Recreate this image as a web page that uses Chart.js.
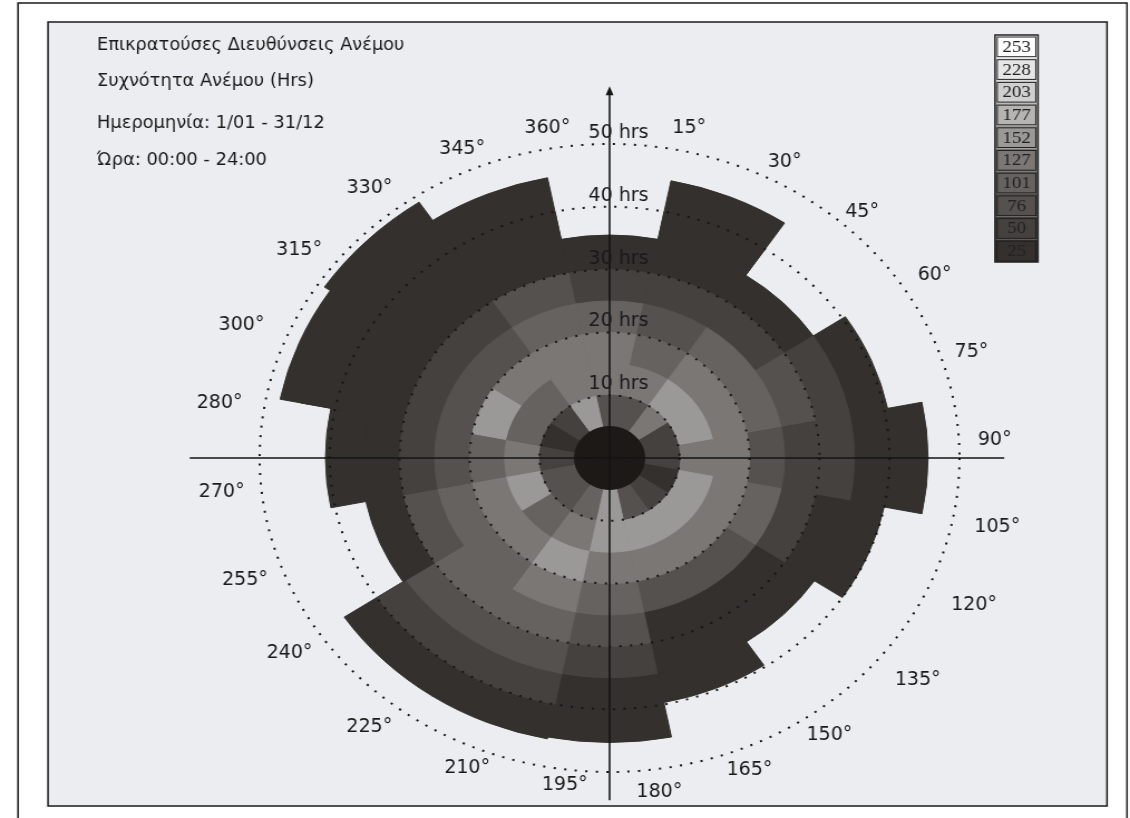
<!DOCTYPE html>
<html>
<head>
<meta charset="utf-8">
<script src="https://cdn.jsdelivr.net/npm/chart.js@4.4.1/dist/chart.umd.min.js"></script>
<style>
  html, body { margin: 0; padding: 0; background: #fff; overflow: hidden; }
  /* the original picture is stretched sideways, so the whole canvas is too */
  #wrap { position: absolute; left: 0; top: 0; width: 1014px; height: 818px; transform-origin: 0 0; transform: scaleX(1.1144); }
</style>
</head>
<body>
<div id="wrap"><canvas id="rose" width="1014" height="818"></canvas></div>
<script>
// 16 sectors of 22.5 deg, clockwise from north
const directions = ['N', 'NNE', 'NE', 'ENE', 'E', 'ESE', 'SE', 'SSE', 'S', 'SSW', 'SW', 'WSW', 'W', 'WNW', 'NW', 'NNW'];
// outer edge of each petal (hrs)
const totals = [35.5, 45, 35, 40.5, 45.5, 40, 35.2, 39.7, 45.3, 45.6, 45.6, 35.5, 40.6, 48, 49, 45.5];
// calm circle (hrs)
const calm = 5;
// grey class of every 5 hrs ring, from 5 hrs outwards (last ring ends at the total)
const rings = [
  [76, 127, 127, 101, 50, 25],
  [76, 127, 101, 76, 50, 25, 25, 25],
  [127, 152, 127, 101, 50, 25],
  [50, 152, 127, 101, 76, 50, 25],
  [50, 127, 127, 76, 50, 50, 25, 25],
  [25, 152, 127, 101, 50, 25, 25],
  [50, 152, 127, 76, 25, 25],
  [76, 152, 127, 76, 25, 25, 25],
  [152, 152, 127, 101, 76, 50, 25, 25],
  [101, 127, 152, 127, 101, 76, 50, 25],
  [76, 101, 127, 101, 101, 76, 50, 25],
  [76, 152, 127, 101, 76, 25],
  [50, 127, 101, 76, 50, 25, 25],
  [25, 101, 152, 76, 50, 25, 25, 25, 25],
  [50, 101, 127, 76, 50, 25, 25, 25, 25],
  [152, 127, 127, 101, 76, 25, 25, 25]
];
const legendLevels = [253, 228, 203, 177, 152, 127, 101, 76, 50, 25];
const tickValues = [10, 20, 30, 40, 50];
const angleLabels = ['360°', '15°', '30°', '45°', '60°', '75°', '90°', '105°', '120°', '135°', '150°', '165°',
  '180°', '195°', '210°', '225°', '240°', '255°', '270°', '280°', '300°', '315°', '330°', '345°'];
const titleLines = ['Επικρατούσες Διευθύνσεις Ανέμου', 'Συχνότητα Ανέμου (Hrs)', 'Ημερομηνία: 1/01 - 31/12', 'Ώρα: 00:00 - 24:00'];

// styles
const shade = {
  253: '#fdfdfd', 228: '#e6e6e6', 203: '#cfcfcf', 177: '#b5b4b3', 152: '#9b9997',
  127: '#7a7775', 101: '#65625f', 76: '#55514e', 50: '#45413e', 25: '#33302d'
};
const calmColor = '#1d1917';
const font = '"DejaVu Sans Condensed", "Liberation Sans", Arial, sans-serif';
const stretch = 1.1144;
const px = x => x / stretch; // page x -> canvas x
// where each angle label sits: [hrs from centre, bearing]
const labelPos = [[53.3, 350.4], [53.8, 12.2], [53.3, 28], [53.3, 42.6], [54.8, 57.9], [54.4, 71.9],
  [55.1, 87], [56.5, 101.3], [57.1, 114.2], [56.5, 128.8], [54.1, 144.5], [53.6, 158.1],
  [53.7, 172.4], [52.5, 187], [53.4, 202.4], [54.9, 218.7], [55.3, 235.8], [55.6, 249.6],
  [55.7, 264.4], [56.4, 278.9], [56.7, 291.9], [55.4, 306.8], [55, 321.4], [53.5, 336.8]];

const ringStep = 5;
const maxRings = Math.max(...rings.map(r => r.length));

const datasets = [{
  label: 'calm',
  data: directions.map(() => calm),
  backgroundColor: calmColor,
  borderColor: calmColor,
  borderWidth: 1
}];
for (let k = 0; k < maxRings; k++) {
  const cols = rings.map(r => k < r.length ? shade[r[k]] : 'rgba(0,0,0,0)');
  datasets.push({
    label: 'ring ' + (k + 1),
    data: rings.map((r, i) => {
      if (k >= r.length) return 0;
      return k === r.length - 1 ? totals[i] : calm + ringStep * (k + 1);
    }),
    backgroundColor: cols,
    borderColor: cols,
    borderWidth: 1
  });
}

const decor = {
  id: 'decor',
  beforeDraw(chart) {
    const ctx = chart.ctx;
    ctx.save();
    ctx.fillStyle = '#ffffff';
    ctx.fillRect(0, 0, chart.width, chart.height);
    ctx.strokeStyle = '#1a1a1a';
    ctx.lineWidth = 1.5;
    ctx.strokeRect(px(18), 3, px(1127) - px(18), 900);
    ctx.fillStyle = '#ecedf0';
    ctx.fillRect(px(48), 22, px(1107) - px(48), 784);
    ctx.strokeRect(px(48), 22, px(1107) - px(48), 784);

    // title block
    ctx.fillStyle = '#1a1a1a';
    ctx.font = '17.8px ' + font;
    ctx.textAlign = 'left';
    ctx.textBaseline = 'middle';
    const ys = [45, 81, 123, 160];
    titleLines.forEach((t, i) => ctx.fillText(t, px(97), ys[i]));

    // grey legend
    const lx = px(995), lw = px(1038) - px(995), ly = 35, ch = 22.7;
    ctx.lineWidth = 1;
    ctx.font = '17px "Liberation Serif", "Times New Roman", serif';
    ctx.textAlign = 'center';
    legendLevels.forEach((v, i) => {
      const y = ly + i * ch;
      ctx.fillStyle = shade[v];
      ctx.fillRect(lx, y, lw, ch);
      ctx.strokeStyle = '#222';
      ctx.strokeRect(lx + 2, y + 2, lw - 4, ch - 3);
      ctx.fillStyle = '#222';
      ctx.fillText(String(v), lx + lw / 2, y + ch / 2 + 1);
    });
    ctx.lineWidth = 1.5;
    ctx.strokeRect(lx, ly, lw, ch * legendLevels.length);
    ctx.restore();
  },
  afterDraw(chart) {
    const ctx = chart.ctx;
    const r = chart.scales.r;
    const cx = r.xCenter, cy = r.yCenter;
    const d = v => r.getDistanceFromCenterForValue(v);
    ctx.save();
    // axes
    ctx.strokeStyle = '#141414';
    ctx.lineWidth = 1.6;
    ctx.beginPath();
    ctx.moveTo(cx - d(60), cy);
    ctx.lineTo(cx + d(56.4), cy);
    ctx.moveTo(cx, cy + d(54.5));
    ctx.lineTo(cx, cy - d(58.5));
    ctx.stroke();
    ctx.fillStyle = '#141414';
    ctx.beginPath();
    ctx.moveTo(cx, cy - d(59.2));
    ctx.lineTo(cx - 3.5, cy - d(59.2) + 9);
    ctx.lineTo(cx + 3.5, cy - d(59.2) + 9);
    ctx.closePath();
    ctx.fill();

    // hrs labels on the north axis
    ctx.fillStyle = '#1a1a1a';
    ctx.font = '19px ' + font;
    ctx.textAlign = 'center';
    ctx.textBaseline = 'alphabetic';
    tickValues.forEach(v => ctx.fillText(v + ' hrs', cx + 8, cy - d(v) - 6));

    // direction labels
    ctx.textBaseline = 'middle';
    angleLabels.forEach((t, i) => {
      const [hr, b] = labelPos[i];
      const a = b * Math.PI / 180;
      ctx.fillText(t, cx + d(hr) * Math.sin(a), cy - d(hr) * Math.cos(a));
    });
    ctx.restore();
  }
};

new Chart(document.getElementById('rose'), {
  type: 'polarArea',
  data: {
    labels: directions,
    datasets: datasets
  },
  options: {
    responsive: false,
    animation: false,
    events: [],
    layout: {
      padding: { left: 233, right: 153, top: 144, bottom: 46 }
    },
    scales: {
      r: {
        min: 0,
        max: 50,
        startAngle: -11.25,
        ticks: { display: false, stepSize: 10 },
        grid: { z: 1, color: '#161616', lineWidth: 2, circular: true },
        border: { dash: [2, 7.5] },
        angleLines: { display: false },
        pointLabels: { display: false }
      }
    },
    plugins: {
      legend: { display: false },
      tooltip: { enabled: false }
    }
  },
  plugins: [decor]
});
</script>
</body>
</html>
